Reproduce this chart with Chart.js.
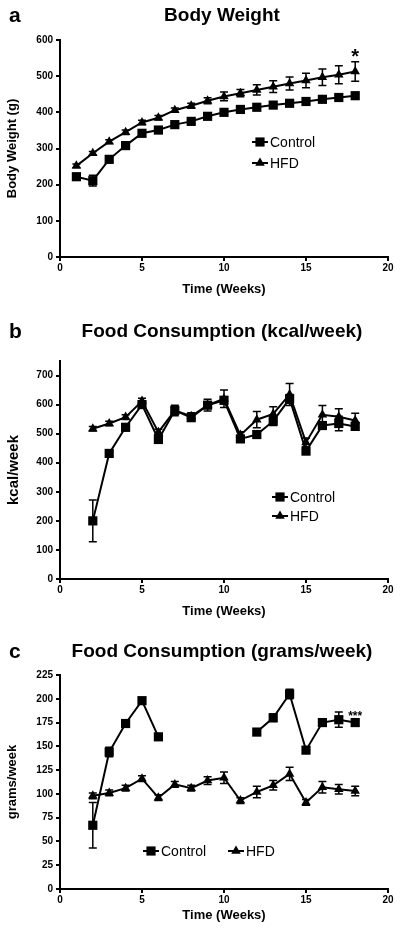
<!DOCTYPE html>
<html>
<head>
<meta charset="utf-8">
<script src="https://cdn.jsdelivr.net/npm/chart.js@4.4.1/dist/chart.umd.min.js"></script>
<style>
  body { margin: 0; background: #fff; }
  #wrap { position: relative; width: 400px; height: 929px; }
  .panel { position: absolute; left: 0; width: 400px; }
</style>
</head>
<body>
<div id="wrap">
  <div class="panel" style="top:0"><canvas id="bw" width="400" height="300"></canvas></div>
  <div class="panel" style="top:300px"><canvas id="kcal" width="400" height="325"></canvas></div>
  <div class="panel" style="top:625px"><canvas id="grams" width="400" height="304"></canvas></div>
</div>
<script>
// ---- data ----
const xTicks = [0, 5, 10, 15, 20];

// a) body weight
const weeksA = [1, 2, 3, 4, 5, 6, 7, 8, 9, 10, 11, 12, 13, 14, 15, 16, 17, 18];
const bwControl = [222, 211, 270, 308, 342, 351, 366, 375, 389, 400, 408, 414, 420, 425, 430, 436, 441, 446];
const bwControlErr = [5, 15, 6, 6, 6, 5, 5, 5, 5, 5, 5, 5, 5, 5, 5, 5, 5, 5];
const bwHfd = [252, 287, 319, 345, 372, 385, 406, 418, 432, 444, 453, 462, 471, 480, 488, 497, 504, 513];
const bwHfdErr = [5, 5, 5, 6, 6, 6, 6, 7, 8, 12, 10, 14, 16, 18, 20, 23, 25, 27];
const bwTicks = [0, 100, 200, 300, 400, 500, 600];

// b) food consumption kcal/week
const weeksB = [2, 3, 4, 5, 6, 7, 8, 9, 10, 11, 12, 13, 14, 15, 16, 17, 18];
const kcalControl = [200, 432, 522, 600, 480, 580, 555, 598, 615, 482, 497, 543, 620, 440, 528, 535, 525];
const kcalControlErr = [72, 12, 12, 10, 10, 10, 10, 10, 12, 10, 10, 15, 15, 10, 12, 25, 12];
const kcalHfd = [517, 535, 557, 612, 505, 580, 560, 598, 620, 495, 548, 568, 635, 470, 565, 558, 545];
const kcalHfdErr = [8, 8, 8, 10, 10, 18, 12, 20, 30, 12, 28, 25, 38, 15, 32, 28, 25];
const kcalTicks = [0, 100, 200, 300, 400, 500, 600, 700];

// c) food consumption grams/week (control missing weeks 7-11)
const weeksC = [2, 3, 4, 5, 6, 7, 8, 9, 10, 11, 12, 13, 14, 15, 16, 17, 18];
const gramsControl = [67, 144, 174, 198, 160, null, null, null, null, null, 165, 180, 205, 146, 175, 178, 175];
const gramsControlErr = [24, 5, 3, 3, 3, 0, 0, 0, 0, 0, 3, 4, 5, 3, 2, 8, 3];
const gramsHfd = [98, 101, 106, 116, 96, 110, 106, 114, 117, 93, 102, 109, 121, 91, 107, 105, 103];
const gramsHfdErr = [3, 3, 3, 3, 3, 3, 3, 4, 6, 3, 6, 5, 7, 3, 6, 5, 5];
const gramsTicks = [0, 25, 50, 75, 100, 125, 150, 175, 200, 225];

const FONT = "'Liberation Sans', Arial, sans-serif";

function pts(weeks, vals) {
  return weeks.map((w, i) => ({ x: w, y: vals[i] }));
}

function marker(ctx, style, x, y, r) {
  ctx.beginPath();
  if (style === 'rect') {
    const s = Math.SQRT1_2 * r;
    ctx.rect(x - s, y - s, 2 * s, 2 * s);
  } else {
    const half = r * Math.sqrt(3) / 2;
    ctx.moveTo(x, y - r);
    ctx.lineTo(x + half, y + r / 2);
    ctx.lineTo(x - half, y + r / 2);
    ctx.closePath();
  }
  ctx.fill();
}

// error bars + panel letter, title, in-plot legend, asterisks
const panelDeco = {
  id: 'panelDeco',
  beforeDatasetsDraw(chart) {
    const ctx = chart.ctx, xs = chart.scales.x, ys = chart.scales.y;
    ctx.save();
    ctx.strokeStyle = '#000';
    ctx.lineWidth = 1.5;
    chart.data.datasets.forEach(ds => {
      ds.data.forEach((p, i) => {
        const e = ds.errors[i];
        if (p.y == null || !e) return;
        const x = xs.getPixelForValue(p.x);
        const y1 = ys.getPixelForValue(p.y + e), y2 = ys.getPixelForValue(p.y - e);
        ctx.beginPath();
        ctx.moveTo(x, y1); ctx.lineTo(x, y2);
        ctx.moveTo(x - 4, y1); ctx.lineTo(x + 4, y1);
        ctx.moveTo(x - 4, y2); ctx.lineTo(x + 4, y2);
        ctx.stroke();
      });
    });
    ctx.restore();
  },
  afterDraw(chart, args, o) {
    const ctx = chart.ctx, xs = chart.scales.x, ys = chart.scales.y;
    ctx.save();
    ctx.fillStyle = '#000';
    ctx.strokeStyle = '#000';
    ctx.textBaseline = 'middle';
    ctx.font = 'bold 21px ' + FONT;
    ctx.textAlign = 'left';
    ctx.fillText(o.letter, 9, o.titleY);
    ctx.font = 'bold 19px ' + FONT;
    ctx.textAlign = 'center';
    ctx.fillText(o.title, 222, o.titleY);

    ctx.font = '14px ' + FONT;
    ctx.textAlign = 'left';
    o.legend.forEach((it, i) => {
      const ds = chart.data.datasets[i];
      ctx.lineWidth = 2;
      ctx.beginPath();
      ctx.moveTo(it.x, it.y); ctx.lineTo(it.x + 16, it.y);
      ctx.stroke();
      marker(ctx, ds.pointStyle, it.x + 8, it.y, ds.pointRadius);
      ctx.fillText(ds.label, it.x + 18, it.y + 1);
    });

    if (o.star) {
      ctx.textBaseline = 'alphabetic';
      ctx.textAlign = 'center';
      ctx.font = o.star.font;
      ctx.fillText(o.star.text, xs.getPixelForValue(o.star.x), ys.getPixelForValue(o.star.y) + o.star.dy);
    }
    ctx.restore();
  }
};

function makeChart(id, cfg) {
  const tickFont = { family: FONT, size: 10, weight: 'bold' };
  const titleFont = { family: FONT, size: 13, weight: 'bold' };
  const yTitleFont = { family: FONT, size: cfg.yTitleSize, weight: 'bold' };
  new Chart(document.getElementById(id), {
    type: 'line',
    data: {
      datasets: [
        {
          label: 'Control', data: pts(cfg.weeks, cfg.control), errors: cfg.controlErr,
          borderColor: '#000', backgroundColor: '#000', borderWidth: 2,
          pointStyle: 'rect', pointRadius: 6.5, pointBorderWidth: 0, spanGaps: false
        },
        {
          label: 'HFD', data: pts(cfg.weeks, cfg.hfd), errors: cfg.hfdErr,
          borderColor: '#000', backgroundColor: '#000', borderWidth: 2,
          pointStyle: 'triangle', pointRadius: 5.5, pointBorderWidth: 0
        }
      ]
    },
    options: {
      responsive: false,
      animation: false,
      layout: { padding: { left: 0, right: 12, top: cfg.padTop, bottom: 0 } },
      plugins: {
        legend: { display: false },
        tooltip: { enabled: false },
        panelDeco: cfg.deco
      },
      scales: {
        x: {
          type: 'linear', min: 0, max: 20,
          afterBuildTicks: s => { s.ticks = xTicks.map(v => ({ value: v })); },
          afterFit: s => { s.height = cfg.xHeight; },
          grid: { drawOnChartArea: false, color: '#000', tickLength: 4, lineWidth: 2 },
          border: { color: '#000', width: 2 },
          ticks: { color: '#000', font: tickFont, padding: 1, maxRotation: 0 },
          title: { display: true, text: 'Time (Weeks)', color: '#000', font: titleFont,
                   padding: { top: 0, bottom: cfg.xTitlePad } }
        },
        y: {
          type: 'linear', min: 0, max: cfg.yMax,
          afterBuildTicks: s => { s.ticks = cfg.yTicks.map(v => ({ value: v })); },
          afterFit: s => { s.width = 60; },
          grid: { drawOnChartArea: false, color: '#000', tickLength: 4, lineWidth: 2 },
          border: { color: '#000', width: 2 },
          ticks: { color: '#000', font: tickFont, padding: 3 },
          title: { display: true, text: cfg.yTitle, color: '#000', font: yTitleFont,
                   padding: { top: cfg.yTitlePad, bottom: 0 } }
        }
      }
    },
    plugins: [panelDeco]
  });
}

makeChart('bw', {
  weeks: weeksA, control: bwControl, controlErr: bwControlErr, hfd: bwHfd, hfdErr: bwHfdErr,
  yMax: 600, yTicks: bwTicks, yTitle: 'Body Weight (g)', yTitleSize: 13, yTitlePad: 5,
  padTop: 40, xHeight: 43, xTitlePad: 3,
  deco: {
    letter: 'a', title: 'Body Weight', titleY: 16,
    legend: [{ x: 252, y: 142 }, { x: 252, y: 163 }],
    star: { text: '*', font: 'bold 20px ' + FONT, x: 18, y: 540, dy: 1 }
  }
});

makeChart('kcal', {
  weeks: weeksB, control: kcalControl, controlErr: kcalControlErr, hfd: kcalHfd, hfdErr: kcalHfdErr,
  yMax: 750, yTicks: kcalTicks, yTitle: 'kcal/week', yTitleSize: 15, yTitlePad: 5,
  padTop: 61, xHeight: 46, xTitlePad: 6,
  deco: {
    letter: 'b', title: 'Food Consumption (kcal/week)', titleY: 32,
    legend: [{ x: 272, y: 197 }, { x: 272, y: 216 }]
  }
});

makeChart('grams', {
  weeks: weeksC, control: gramsControl, controlErr: gramsControlErr, hfd: gramsHfd, hfdErr: gramsHfdErr,
  yMax: 225, yTicks: gramsTicks, yTitle: 'grams/week', yTitleSize: 13, yTitlePad: 5,
  padTop: 50, xHeight: 40, xTitlePad: 6,
  deco: {
    letter: 'c', title: 'Food Consumption (grams/week)', titleY: 27,
    legend: [{ x: 143, y: 226 }, { x: 228, y: 226 }],
    star: { text: '***', font: 'bold 12px ' + FONT, x: 18, y: 175, dy: -3 }
  }
});
</script>
</body>
</html>
